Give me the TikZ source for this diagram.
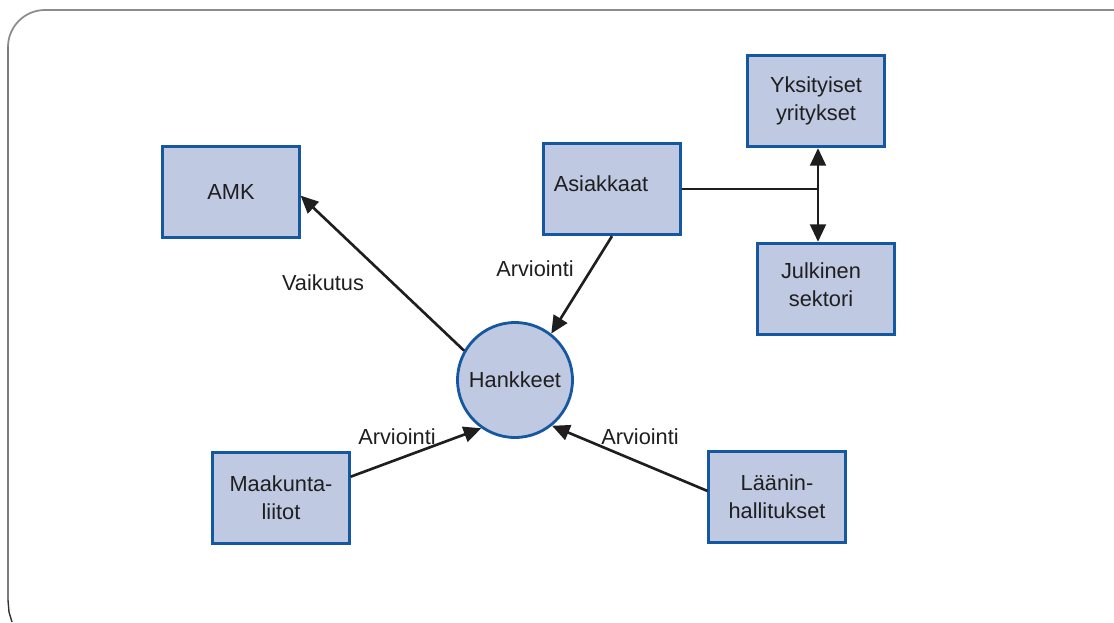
\documentclass[tikz,border=0pt]{standalone}
\usepackage{fontspec}
\setmainfont{Liberation Sans}
\usetikzlibrary{arrows.meta}

\definecolor{boxfill}{RGB}{191,201,226}
\definecolor{boxline}{RGB}{22,88,160}
\definecolor{arrowline}{RGB}{30,30,30}

\begin{document}
\begin{tikzpicture}[x=0.02cm, y=-0.02cm,
    every node/.style={font=\fontsize{12.4}{16}\selectfont, text=black!88},
    actor/.style={rectangle, draw=boxline, fill=boxfill, line width=1.6pt,
      minimum width=2.73cm, minimum height=1.83cm, align=center},
    project/.style={circle, draw=boxline, fill=boxfill, line width=1.6pt,
      minimum size=2.3cm},
    flow/.style={draw=arrowline, line width=1.5pt,
      -{Triangle[length=10pt, width=9pt]}},
    lbl/.style={inner sep=0pt}]
  \useasboundingbox (0,0) rectangle (1114,622);
  % frame
  \draw[black!45, line width=1pt] (1114,10) -- (45,10) arc[start angle=270, end angle=180, radius=37];
  \draw[black!80, line width=0.8pt] (8,47) -- (8,600) -- (9,612) -- (12,622);

  \node[project] (hankkeet) at (515,380) {Hankkeet};
  \node[actor] (amk) at (231,192) {AMK};
  \node[actor] (asiakkaat) at (612,189) {};
  \node[lbl] (asiakkaatteksti) at (601,184) {Asiakkaat};
  \node[actor] (yksityiset) at (816,101) {Yksityiset\\yritykset};
  \node[actor] (julkinen) at (826,289) {};
  \node[lbl, align=center] (julkinenteksti) at (821,285) {Julkinen\\sektori};
  \node[actor] (maakunta) at (281,498) {Maakunta-\\liitot};
  \node[actor] (laanin) at (777,497) {Läänin-\\hallitukset};
  \coordinate (haara) at (818,189);

  \draw[flow] (hankkeet.150) -- (amk.-3);
  \draw[flow] (asiakkaat.south) -- (hankkeet.52);
  \draw[flow] (maakunta.17) -- (hankkeet.235);
  \draw[flow] (laanin.175) -- (hankkeet.-51);
  \draw[draw=arrowline, line width=1.6pt] (asiakkaat.east) -- (haara);
  \draw[flow] (haara) -- (yksityiset.south -| haara);
  \draw[flow] (haara) -- (julkinen.north -| haara);

  \node[lbl] (vaikutus) at (323,283) {Vaikutus};
  \node[lbl] (arv1) at (535,269) {Arviointi};
  \node[lbl] (arv2) at (397,437) {Arviointi};
  \node[lbl] (arv3) at (640,437) {Arviointi};
\end{tikzpicture}
\end{document}
